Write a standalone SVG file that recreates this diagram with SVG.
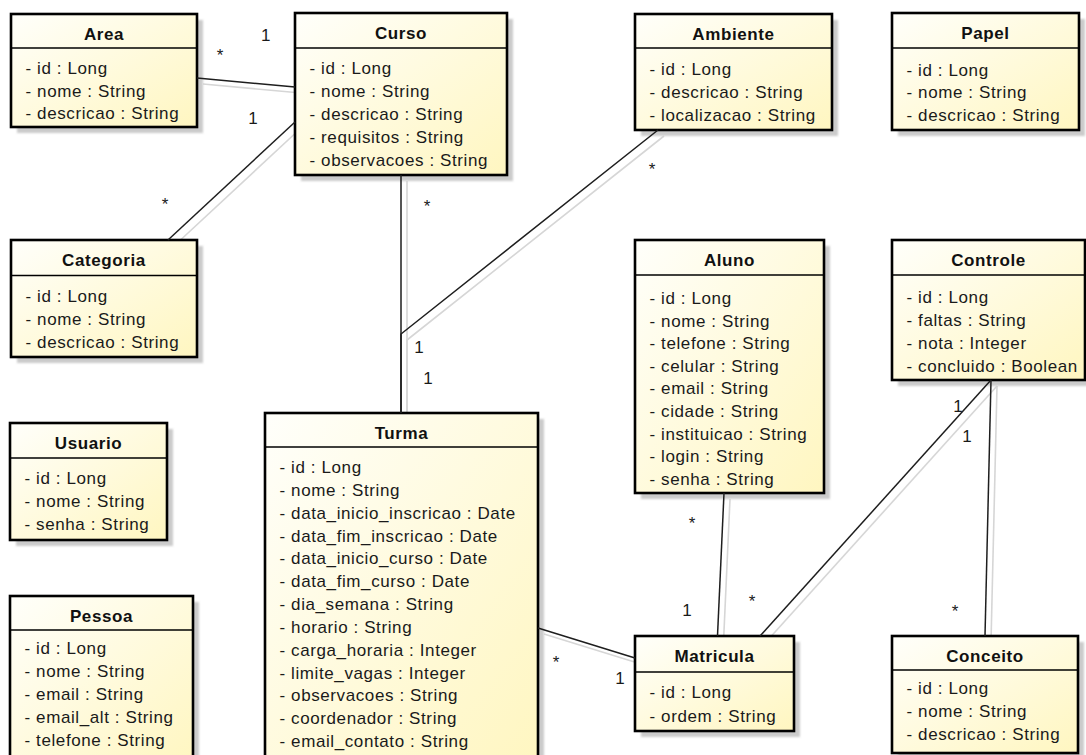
<svg xmlns="http://www.w3.org/2000/svg" width="1086" height="755" viewBox="0 0 1086 755">
<defs>
<linearGradient id="fill" x1="0" y1="0" x2="1" y2="1">
<stop offset="0" stop-color="#fffffb"/>
<stop offset="1" stop-color="#fff6c0"/>
</linearGradient>
<filter id="blur" x="-10%" y="-10%" width="120%" height="120%">
<feGaussianBlur stdDeviation="1.2"/>
</filter>
</defs>
<style>
.sh{fill:#cbcbcb;filter:url(#blur)}
.box{fill:url(#fill);stroke:#000;stroke-width:2.6}
.hd{stroke:#000;stroke-width:1.6}
.t{font-family:"Liberation Sans",Arial,sans-serif;font-size:17px;font-weight:bold;letter-spacing:0.6px;text-anchor:middle;fill:#111}
.a{font-family:"Liberation Sans",Arial,sans-serif;font-size:17px;letter-spacing:0.6px;fill:#1a1a1a}
.m{font-family:"Liberation Sans",Arial,sans-serif;font-size:17px;text-anchor:middle;fill:#1a1a1a}
.ln{stroke:#1e1e1e;stroke-width:1.5;fill:none}
.ls{stroke:#d6d6d6;stroke-width:1.6;fill:none}
</style>
<rect width="1086" height="755" fill="#fff"/>
<g id="connector-shadows">
<polyline class="ls" points="203,84 301,93"/>
<polyline class="ls" points="301,128 174,246"/>
<polyline class="ls" points="407,181 407,419"/>
<polyline class="ls" points="664,136 407,340 407,419"/>
<polyline class="ls" points="544,634 641,664"/>
<polyline class="ls" points="730,499 723.5,642"/>
<polyline class="ls" points="997,386 766,642"/>
<polyline class="ls" points="997,386 991,642"/>
</g>
<g id="area">
<rect class="sh" x="17" y="20" width="186" height="113"/>
<rect class="box" x="11" y="14" width="186" height="113"/>
<line class="hd" x1="11" y1="48" x2="197" y2="48"/>
<text class="t" x="104" y="39.5">Area</text>
<text class="a" x="25.5" y="74">- id : Long</text>
<text class="a" x="25.5" y="96.6">- nome : String</text>
<text class="a" x="25.5" y="119.2">- descricao : String</text>
</g>
<g id="curso">
<rect class="sh" x="301" y="19" width="212" height="162"/>
<rect class="box" x="295" y="13" width="212" height="162"/>
<line class="hd" x1="295" y1="48" x2="507" y2="48"/>
<text class="t" x="401" y="38.5">Curso</text>
<text class="a" x="309.5" y="73.5">- id : Long</text>
<text class="a" x="309.5" y="96.5">- nome : String</text>
<text class="a" x="309.5" y="119.5">- descricao : String</text>
<text class="a" x="309.5" y="142.5">- requisitos : String</text>
<text class="a" x="309.5" y="165.5">- observacoes : String</text>
</g>
<g id="ambiente">
<rect class="sh" x="641" y="20" width="197" height="116"/>
<rect class="box" x="635" y="14" width="197" height="116"/>
<line class="hd" x1="635" y1="48" x2="832" y2="48"/>
<text class="t" x="733.5" y="39.5">Ambiente</text>
<text class="a" x="649.5" y="75">- id : Long</text>
<text class="a" x="649.5" y="97.8">- descricao : String</text>
<text class="a" x="649.5" y="120.6">- localizacao : String</text>
</g>
<g id="papel">
<rect class="sh" x="898" y="19" width="187" height="117"/>
<rect class="box" x="892" y="13" width="187" height="117"/>
<line class="hd" x1="892" y1="48" x2="1079" y2="48"/>
<text class="t" x="985.5" y="38.5">Papel</text>
<text class="a" x="906.5" y="75.5">- id : Long</text>
<text class="a" x="906.5" y="98">- nome : String</text>
<text class="a" x="906.5" y="120.5">- descricao : String</text>
</g>
<g id="categoria">
<rect class="sh" x="17" y="246" width="186" height="117"/>
<rect class="box" x="11" y="240" width="186" height="117"/>
<line class="hd" x1="11" y1="275.5" x2="197" y2="275.5"/>
<text class="t" x="104" y="265.5">Categoria</text>
<text class="a" x="25.5" y="302">- id : Long</text>
<text class="a" x="25.5" y="325">- nome : String</text>
<text class="a" x="25.5" y="348">- descricao : String</text>
</g>
<g id="aluno">
<rect class="sh" x="641" y="246" width="189" height="253"/>
<rect class="box" x="635" y="240" width="189" height="253"/>
<line class="hd" x1="635" y1="275" x2="824" y2="275"/>
<text class="t" x="729.5" y="265.5">Aluno</text>
<text class="a" x="649.5" y="304">- id : Long</text>
<text class="a" x="649.5" y="326.6">- nome : String</text>
<text class="a" x="649.5" y="349.2">- telefone : String</text>
<text class="a" x="649.5" y="371.8">- celular : String</text>
<text class="a" x="649.5" y="394.4">- email : String</text>
<text class="a" x="649.5" y="417">- cidade : String</text>
<text class="a" x="649.5" y="439.6">- instituicao : String</text>
<text class="a" x="649.5" y="462.2">- login : String</text>
<text class="a" x="649.5" y="484.8">- senha : String</text>
</g>
<g id="controle">
<rect class="sh" x="898" y="246" width="193" height="140"/>
<rect class="box" x="892" y="240" width="193" height="140"/>
<line class="hd" x1="892" y1="275" x2="1085" y2="275"/>
<text class="t" x="988.5" y="265.5">Controle</text>
<text class="a" x="906.5" y="303">- id : Long</text>
<text class="a" x="906.5" y="326">- faltas : String</text>
<text class="a" x="906.5" y="349">- nota : Integer</text>
<text class="a" x="906.5" y="372">- concluido : Boolean</text>
</g>
<g id="usuario">
<rect class="sh" x="16" y="429" width="157" height="117"/>
<rect class="box" x="10" y="423" width="157" height="117"/>
<line class="hd" x1="10" y1="458" x2="167" y2="458"/>
<text class="t" x="88.5" y="448.5">Usuario</text>
<text class="a" x="24.5" y="483.5">- id : Long</text>
<text class="a" x="24.5" y="506.5">- nome : String</text>
<text class="a" x="24.5" y="529.5">- senha : String</text>
</g>
<g id="turma">
<rect class="sh" x="271" y="419" width="273" height="355"/>
<rect class="box" x="265" y="413" width="273" height="355"/>
<line class="hd" x1="265" y1="447" x2="538" y2="447"/>
<text class="t" x="401.5" y="438.5">Turma</text>
<text class="a" x="279.5" y="473">- id : Long</text>
<text class="a" x="279.5" y="495.8">- nome : String</text>
<text class="a" x="279.5" y="518.7">- data_inicio_inscricao : Date</text>
<text class="a" x="279.5" y="541.5">- data_fim_inscricao : Date</text>
<text class="a" x="279.5" y="564.3">- data_inicio_curso : Date</text>
<text class="a" x="279.5" y="587.2">- data_fim_curso : Date</text>
<text class="a" x="279.5" y="610">- dia_semana : String</text>
<text class="a" x="279.5" y="632.8">- horario : String</text>
<text class="a" x="279.5" y="655.6">- carga_horaria : Integer</text>
<text class="a" x="279.5" y="678.5">- limite_vagas : Integer</text>
<text class="a" x="279.5" y="701.3">- observacoes : String</text>
<text class="a" x="279.5" y="724.1">- coordenador : String</text>
<text class="a" x="279.5" y="747">- email_contato : String</text>
</g>
<g id="pessoa">
<rect class="sh" x="16" y="602" width="183" height="170"/>
<rect class="box" x="10" y="596" width="183" height="170"/>
<line class="hd" x1="10" y1="630" x2="193" y2="630"/>
<text class="t" x="101.5" y="621.5">Pessoa</text>
<text class="a" x="24.5" y="653.5">- id : Long</text>
<text class="a" x="24.5" y="676.5">- nome : String</text>
<text class="a" x="24.5" y="699.5">- email : String</text>
<text class="a" x="24.5" y="722.5">- email_alt : String</text>
<text class="a" x="24.5" y="745.5">- telefone : String</text>
</g>
<g id="matricula">
<rect class="sh" x="641" y="642" width="159" height="95"/>
<rect class="box" x="635" y="636" width="159" height="95"/>
<line class="hd" x1="635" y1="672" x2="794" y2="672"/>
<text class="t" x="714.5" y="661.5">Matricula</text>
<text class="a" x="649.5" y="698">- id : Long</text>
<text class="a" x="649.5" y="721.5">- ordem : String</text>
</g>
<g id="conceito">
<rect class="sh" x="898" y="642" width="186" height="117"/>
<rect class="box" x="892" y="636" width="186" height="117"/>
<line class="hd" x1="892" y1="670" x2="1078" y2="670"/>
<text class="t" x="985" y="661.5">Conceito</text>
<text class="a" x="906.5" y="693.5">- id : Long</text>
<text class="a" x="906.5" y="716.5">- nome : String</text>
<text class="a" x="906.5" y="739.5">- descricao : String</text>
</g>
<g id="connectors">
<polyline class="ln" points="197,78 295,87"/>
<polyline class="ln" points="295,122 168,240"/>
<polyline class="ln" points="401,175 401,413"/>
<polyline class="ln" points="658,130 401,334 401,413"/>
<polyline class="ln" points="538,628 635,658"/>
<polyline class="ln" points="724,493 717.5,636"/>
<polyline class="ln" points="991,380 760,636"/>
<polyline class="ln" points="991,380 985,636"/>
<text class="m" x="220" y="61">*</text>
<text class="m" x="265.7" y="41">1</text>
<text class="m" x="253" y="124">1</text>
<text class="m" x="165" y="209.5">*</text>
<text class="m" x="427" y="211.5">*</text>
<text class="m" x="652" y="174.5">*</text>
<text class="m" x="419" y="353">1</text>
<text class="m" x="428" y="384">1</text>
<text class="m" x="556" y="667.5">*</text>
<text class="m" x="620" y="684">1</text>
<text class="m" x="692" y="528.5">*</text>
<text class="m" x="687" y="616">1</text>
<text class="m" x="752" y="606.5">*</text>
<text class="m" x="958" y="412">1</text>
<text class="m" x="967" y="442">1</text>
<text class="m" x="955" y="616.5">*</text>
</g>
</svg>
